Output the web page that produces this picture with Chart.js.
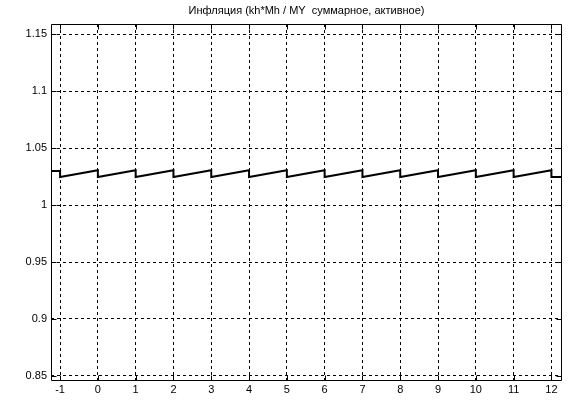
<!DOCTYPE html>
<html>
<head>
<meta charset="utf-8">
<script src="https://cdn.jsdelivr.net/npm/chart.js@4/dist/chart.umd.min.js"></script>
<style>
  html, body { margin: 0; padding: 0; background: #fff; }
  #wrap { width: 568px; height: 400px; }
</style>
</head>
<body>
<div id="wrap"><canvas id="chart" width="568" height="400"></canvas></div>
<script>
const TITLE = "Инфляция (kh*Mh / MY  суммарное, активное)";

// year marks on the x axis
const years = [-1, 0, 1, 2, 3, 4, 5, 6, 7, 8, 9, 10, 11, 12];
// value just before the jump at each year
const highVals = [1.0298, 1.0305, 1.0305, 1.0305, 1.0305, 1.0305, 1.0305, 1.0305, 1.0305, 1.0305, 1.0305, 1.0305, 1.0305, 1.0305];
// value just after the jump
const lowVals = [1.0245, 1.0245, 1.0245, 1.0245, 1.0245, 1.0245, 1.0245, 1.0245, 1.0245, 1.0245, 1.0245, 1.0245, 1.0245, 1.0245];
// ends of the line at the axis edges
const edgeX = [-1.24, 12.28];
const edgeY = [1.0298, 1.0245];

const xTicks = [-1, 0, 1, 2, 3, 4, 5, 6, 7, 8, 9, 10, 11, 12];
const yTicks = [0.85, 0.9, 0.95, 1, 1.05, 1.1, 1.15];

const points = [{ x: edgeX[0], y: edgeY[0] }];
years.forEach((yr, i) => {
  points.push({ x: yr, y: highVals[i] });
  points.push({ x: yr, y: lowVals[i] });
});
points.push({ x: edgeX[1], y: edgeY[1] });

const FONT = { family: "'Liberation Sans', Arial, sans-serif", size: 11 };

// solid frame plus small inward ticks on all four sides
const frame = {
  id: "frame",
  afterDraw(chart) {
    const { ctx, chartArea: a, scales } = chart;
    ctx.save();
    ctx.strokeStyle = "#000";
    ctx.lineWidth = 1;
    ctx.setLineDash([]);
    ctx.beginPath();
    const L = Math.round(a.left) + 0.5, R = Math.round(a.right) - 0.5;
    const T = Math.round(a.top) + 0.5, B = Math.round(a.bottom) - 0.5;
    ctx.rect(L, T, R - L, B - T);
    const len = 5;
    xTicks.forEach(v => {
      const px = Math.round(scales.x.getPixelForValue(v)) + 0.5;
      ctx.moveTo(px, B); ctx.lineTo(px, B - len);
      ctx.moveTo(px, T); ctx.lineTo(px, T + len);
    });
    yTicks.forEach(v => {
      const py = Math.round(scales.y.getPixelForValue(v)) + 0.5;
      ctx.moveTo(L, py); ctx.lineTo(L + len, py);
      ctx.moveTo(R, py); ctx.lineTo(R - len, py);
    });
    ctx.stroke();
    ctx.restore();
  }
};

new Chart(document.getElementById("chart"), {
  type: "line",
  data: {
    datasets: [{
      data: points,
      borderColor: "#000",
      borderWidth: 2,
      pointRadius: 0,
      tension: 0,
      fill: false
    }]
  },
  options: {
    responsive: false,
    animation: false,
    events: [],
    layout: { padding: { left: 0, right: 6, top: 0, bottom: 0 } },
    plugins: {
      legend: { display: false },
      tooltip: { enabled: false },
      title: {
        display: true,
        text: TITLE,
        color: "#000",
        fullSize: false,
        font: { family: FONT.family, size: 11, weight: "normal" },
        padding: { top: 4, bottom: 6.8 }
      }
    },
    scales: {
      x: {
        type: "linear",
        min: -1.24,
        max: 12.28,
        afterBuildTicks: s => { s.ticks = xTicks.map(v => ({ value: v })); },
        afterFit: s => { s.height = 19; },
        ticks: { color: "#000", font: FONT, padding: 2, maxRotation: 0, autoSkip: false },
        grid: { color: "#000", lineWidth: 1, drawTicks: false, tickLength: 0 },
        border: { display: false, dash: [3, 3] }
      },
      y: {
        type: "linear",
        min: 0.8456,
        max: 1.1588,
        afterBuildTicks: s => { s.ticks = yTicks.map(v => ({ value: v })); },
        afterFit: s => { s.width = 51; },
        ticks: {
          color: "#000",
          font: FONT,
          padding: 4,
          callback: v => String(Number(v.toFixed(2)))
        },
        grid: { color: "#000", lineWidth: 1, drawTicks: false, tickLength: 0 },
        border: { display: false, dash: [3, 3] }
      }
    }
  },
  plugins: [frame]
});
</script>
</body>
</html>
